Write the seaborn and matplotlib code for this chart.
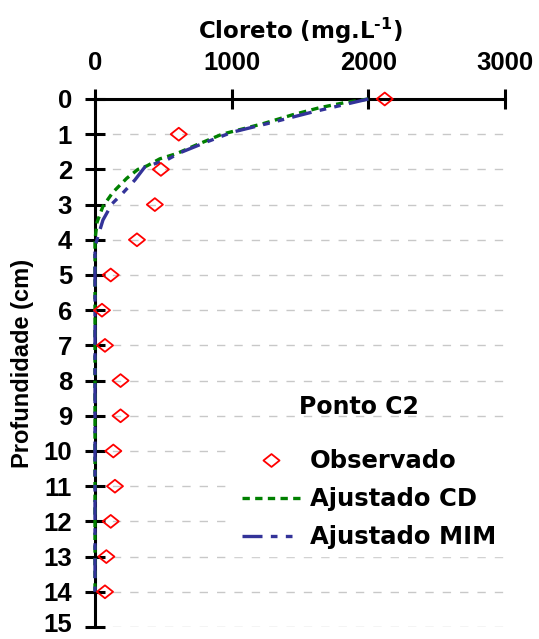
import matplotlib
matplotlib.use("Agg")
import matplotlib.pyplot as plt
import seaborn as sns
import pandas as pd
from matplotlib.lines import Line2D
from matplotlib.path import Path
from matplotlib.transforms import ScaledTranslation

# ---- data ----
obs_depth = [0, 1, 2, 3, 4, 5, 6, 7, 8, 9, 10, 11, 12, 13, 14]
obs_conc = [2120, 613, 482, 438, 307, 115, 51, 73, 187, 187, 134, 146, 115, 83, 73]

cd_depth = [0, 0.1, 0.25, 0.45, 0.7, 1.0, 1.3, 1.55, 1.7, 1.9, 2.0, 2.25, 2.65, 3.05, 3.5, 4.0, 5, 6, 7, 8, 9, 10, 11, 12, 13, 14]
cd_conc = [2000, 1830, 1640, 1445, 1230, 930, 745, 598, 474, 380, 314, 233, 131, 58, 15, 0, 0, 0, 0, 0, 0, 0, 0, 0, 0, 0]

mim_depth = [0, 0.37, 0.7, 0.94, 1.22, 1.53, 1.73, 1.93, 2.3, 2.67, 2.98, 3.44, 3.9, 4.2, 5, 6, 7, 8, 9, 10, 11, 12, 13, 14]
mim_conc = [2000, 1591, 1260, 1007, 817, 620, 525, 365, 292, 204, 124, 58, 22, 0, 0, 0, 0, 0, 0, 0, 0, 0, 0, 0]

x_ticks = [0, 1000, 2000, 3000]
y_ticks = list(range(0, 16))

sns.set_theme(style="white")
plt.rcParams["font.family"] = ["Liberation Sans", "DejaVu Sans"]
plt.rcParams["font.weight"] = "bold"
plt.rcParams["text.color"] = "black"
plt.rcParams["axes.labelcolor"] = "black"
plt.rcParams["xtick.color"] = "black"
plt.rcParams["ytick.color"] = "black"
plt.rcParams["mathtext.fontset"] = "custom"
plt.rcParams["mathtext.bf"] = "DejaVu Sans:bold"
plt.rcParams["mathtext.rm"] = "DejaVu Sans:bold"
plt.rcParams["mathtext.default"] = "bf"

WIDE = ["DejaVu Sans", "Liberation Sans"]

fig = plt.figure(figsize=(5.39, 6.39), dpi=100)
ax = fig.add_axes([95 / 539, 1 - 627 / 639, 410 / 539, 528 / 639])

df_obs = pd.DataFrame({"conc": obs_conc, "depth": obs_depth})
df_cd = pd.DataFrame({"conc": cd_conc, "depth": cd_depth})
df_mim = pd.DataFrame({"conc": mim_conc, "depth": mim_depth})

green = "#008000"
blue = "#333399"
cd_style = (0, (2.2, 1.6))
mim_style = (0, (6, 2.5, 2, 2.5, 2, 2.5))
wide_diamond = Path([(-1, 0), (0, 0.8), (1, 0), (0, -0.8), (-1, 0)],
                    [Path.MOVETO, Path.LINETO, Path.LINETO, Path.LINETO, Path.CLOSEPOLY])

sns.lineplot(data=df_cd, x="conc", y="depth", sort=False, estimator=None, ax=ax,
             color=green, linewidth=2.4, linestyle=cd_style, zorder=4, clip_on=False)
sns.lineplot(data=df_mim, x="conc", y="depth", sort=False, estimator=None, ax=ax,
             color=blue, linewidth=2.4, linestyle=mim_style, zorder=5, clip_on=False)
sns.scatterplot(data=df_obs, x="conc", y="depth", ax=ax, marker=wide_diamond, s=135,
                facecolor="none", edgecolor="red", linewidth=1.3, zorder=6, clip_on=False)

ax.set_xlim(0, 3000)
ax.set_ylim(15, 0)
ax.set_xticks(x_ticks)
ax.set_yticks(y_ticks)
ax.xaxis.tick_top()
ax.xaxis.set_label_position("top")
ax.set_xlabel("Cloreto (mg.L$^{\u20101}$)", fontsize=16.5, fontweight="bold", family=WIDE)
ax.set_ylabel("Profundidade (cm)", fontsize=17, fontweight="bold")
ax.xaxis.set_label_coords(0.5, 1 + (99 - 39) / 528)
ax.yaxis.set_label_coords((34 - 95) / 410, 0.5)

ax.tick_params(axis="both", which="major", direction="inout", length=15, width=2.2,
               color="black", labelsize=18.5, labelcolor="black")
ax.tick_params(axis="x", top=True, bottom=False, pad=10)
ax.tick_params(axis="y", left=True, right=False, pad=9)
for lab in ax.get_xticklabels() + ax.get_yticklabels():
    lab.set_fontweight("bold")
# lift the last depth label slightly so it stays inside the figure
last = ax.get_yticklabels()[-1]
last.set_transform(last.get_transform() + ScaledTranslation(0, 3 / 72, fig.dpi_scale_trans))

for s in ["right", "bottom"]:
    ax.spines[s].set_visible(False)
for s in ["left", "top"]:
    ax.spines[s].set_linewidth(2.2)
    ax.spines[s].set_color("black")
    ax.spines[s].set_zorder(3)

ax.yaxis.grid(True, linestyle=(0, (6, 6.5)), color="#c8c8c8", linewidth=1)
ax.set_axisbelow(True)

ax.text(1930, 8.75, "Ponto C2", fontsize=17, fontweight="bold", family=WIDE,
        ha="center", va="center")

handles = [
    Line2D([], [], marker=wide_diamond, linestyle="none", markersize=11.6,
           markerfacecolor="none", markeredgecolor="red", markeredgewidth=1.3),
    Line2D([], [], color=green, linewidth=2.4, linestyle=cd_style),
    Line2D([], [], color=blue, linewidth=2.4, linestyle=mim_style),
]
leg = ax.legend(handles, ["Observado", "Ajustado CD", "Ajustado MIM"],
                loc="upper left", bbox_to_anchor=(0.34, 0.35), frameon=True,
                facecolor="white", edgecolor="white", framealpha=1, fancybox=False,
                prop={"size": 17.5, "weight": "bold", "family": WIDE}, handlelength=2.4,
                handletextpad=0.4, labelspacing=0.57, borderaxespad=0, borderpad=0.3)
leg.set_zorder(7)
for t in leg.get_texts():
    t.set_color("black")

fig.savefig("out.png", dpi=100)
